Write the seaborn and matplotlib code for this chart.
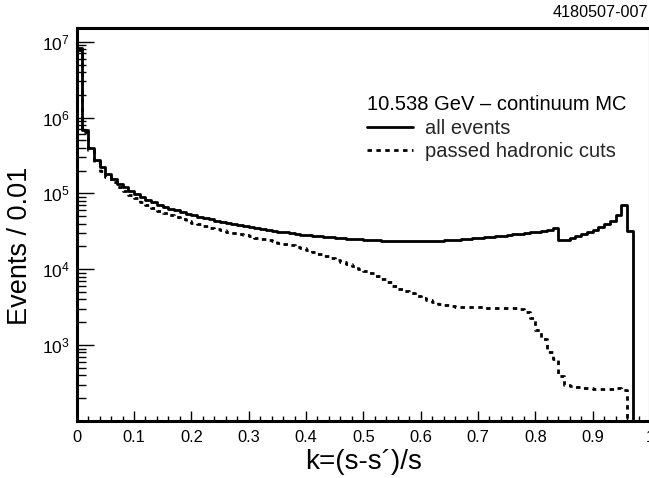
import numpy as np
import pandas as pd
import matplotlib
matplotlib.use("Agg")
import matplotlib.pyplot as plt
import seaborn as sns
from matplotlib.ticker import FixedLocator, MultipleLocator, LogLocator, NullFormatter
from matplotlib.lines import Line2D

# ---------------- data ----------------
bin_width = 0.01
n_bins = 100

all_events = [
    8.2e6, 6.9e5, 4.0e5, 2.8e5, 2.2e5, 1.8e5, 1.55e5, 1.35e5, 1.2e5, 1.08e5,
    9.8e4, 8.9e4, 8.2e4, 7.6e4, 7.1e4, 6.7e4, 6.3e4, 6.0e4, 5.7e4, 5.4e4,
    5.15e4, 4.95e4, 4.75e4, 4.55e4, 4.35e4, 4.2e4, 4.05e4, 3.92e4, 3.82e4, 3.7e4,
    3.6e4, 3.5e4, 3.4e4, 3.3e4, 3.22e4, 3.14e4, 3.06e4, 2.99e4, 2.93e4, 2.87e4,
    2.82e4, 2.77e4, 2.72e4, 2.68e4, 2.64e4, 2.6e4, 2.57e4, 2.54e4, 2.51e4, 2.48e4,
    2.46e4, 2.43e4, 2.41e4, 2.39e4, 2.37e4, 2.36e4, 2.35e4, 2.34e4, 2.34e4, 2.34e4,
    2.34e4, 2.35e4, 2.36e4, 2.38e4, 2.4e4, 2.42e4, 2.45e4, 2.48e4, 2.51e4, 2.55e4,
    2.59e4, 2.63e4, 2.67e4, 2.72e4, 2.77e4, 2.82e4, 2.88e4, 2.94e4, 3.0e4, 3.07e4,
    3.14e4, 3.22e4, 3.32e4, 3.5e4, 2.41e4, 2.45e4, 2.59e4, 2.72e4, 2.92e4, 3.1e4,
    3.33e4, 3.6e4, 3.95e4, 4.3e4, 5.2e4, 6.95e4, 3.16e4, 0, 0, 0,
]

hadronic = [
    7.8e6, 6.4e5, 3.7e5, 2.6e5, 2.0e5, 1.65e5, 1.4e5, 1.22e5, 1.07e5, 9.6e4,
    8.6e4, 7.7e4, 7.0e4, 6.4e4, 5.9e4, 5.5e4, 5.2e4, 4.9e4, 4.6e4, 4.35e4,
    4.1e4, 3.9e4, 3.72e4, 3.55e4, 3.4e4, 3.26e4, 3.14e4, 3.03e4, 2.92e4, 2.82e4,
    2.72e4, 2.62e4, 2.52e4, 2.43e4, 2.34e4, 2.25e4, 2.16e4, 2.07e4, 1.98e4, 1.9e4,
    1.8e4, 1.7e4, 1.6e4, 1.5e4, 1.41e4, 1.33e4, 1.25e4, 1.17e4, 1.09e4, 1.02e4,
    9.5e3, 8.8e3, 8.1e3, 7.5e3, 6.9e3, 6.0e3, 5.5e3, 5.1e3, 4.8e3, 4.45e3,
    4.2e3, 3.95e3, 3.7e3, 3.5e3, 3.35e3, 3.25e3, 3.2e3, 3.17e3, 3.15e3, 3.15e3,
    3.14e3, 3.13e3, 3.13e3, 3.12e3, 3.12e3, 3.1e3, 3.05e3, 3.0e3, 2.75e3, 2.3e3,
    1.6e3, 1.2e3, 820, 650, 390, 300, 285, 278, 275, 272,
    268, 262, 262, 265, 270, 255, 0, 0, 0, 0,
]

x_ticks = [0, 0.1, 0.2, 0.3, 0.4, 0.5, 0.6, 0.7, 0.8, 0.9, 1.0]
x_tick_labels = ["0", "0.1", "0.2", "0.3", "0.4", "0.5", "0.6", "0.7", "0.8", "0.9", "1"]
y_ticks = [1e3, 1e4, 1e5, 1e6, 1e7]
y_tick_labels = [r"$\mathregular{10^{3}}$", r"$\mathregular{10^{4}}$", r"$\mathregular{10^{5}}$",
                 r"$\mathregular{10^{6}}$", r"$\mathregular{10^{7}}$"]

title_text = "10.538 GeV \u2013 continuum MC"
series_labels = ["all events", "passed hadronic cuts"]
x_label = "k=(s-s\u00b4)/s"
y_label = "Events / 0.01"
corner_tag = "4180507-007"

# ---------------- style ----------------
sns.set_theme(style="ticks")
plt.rcParams["font.family"] = ["Liberation Sans", "DejaVu Sans"]
plt.rcParams["axes.facecolor"] = "white"
plt.rcParams["figure.facecolor"] = "white"

W, H = 649, 478
fig = plt.figure(figsize=(W / 100, H / 100), dpi=100)
ax_left, ax_right, ax_top, ax_bottom = 76.7, 650.0, 27.7, 421.0
ax = fig.add_axes([ax_left / W, 1 - ax_bottom / H, (ax_right - ax_left) / W, (ax_bottom - ax_top) / H])

centers = (np.arange(n_bins) + 0.5) * bin_width
df = pd.DataFrame({"k": centers, "all": all_events, "had": hadronic})
k_range = (0.0, n_bins * bin_width)

dash = (0, (1.6, 1.6))
sns.histplot(data=df, x="k", weights="had", bins=n_bins, binrange=k_range, element="step",
             fill=False, color="black", linewidth=2.0, linestyle=dash, ax=ax)
sns.histplot(data=df, x="k", weights="all", bins=n_bins, binrange=k_range, element="step",
             fill=False, color="black", linewidth=2.0, ax=ax)

ax.set_yscale("log")
ax.set_xlim(0, 1)
ax.set_ylim(100, 1.53e7)

ax.xaxis.set_major_locator(FixedLocator(x_ticks))
ax.set_xticklabels(x_tick_labels)
ax.xaxis.set_minor_locator(MultipleLocator(0.02))
ax.yaxis.set_major_locator(FixedLocator(y_ticks))
ax.set_yticklabels(y_tick_labels)
ax.yaxis.set_minor_locator(LogLocator(base=10, subs=np.arange(2, 10), numticks=30))
ax.yaxis.set_minor_formatter(NullFormatter())

ax.tick_params(axis="x", which="major", direction="in", length=7, width=1.0, pad=6.8,
               labelsize=11.8, color="black", labelcolor="black")
ax.tick_params(axis="x", which="minor", direction="in", length=3.3, width=1.0, color="black")
ax.tick_params(axis="y", which="major", direction="in", length=12.2, width=1.0, pad=5,
               labelsize=12.5, color="black", labelcolor="black")
ax.tick_params(axis="y", which="minor", direction="in", length=6.5, width=1.0, color="black")

for side in ["left", "bottom", "top", "right"]:
    ax.spines[side].set_linewidth(2.2)
    ax.spines[side].set_color("black")

ax.set_xlabel(x_label, fontsize=20, color="black")
ax.set_ylabel(y_label, fontsize=19.5, color="black")
ax.xaxis.set_label_coords(0.5, -0.071)
ax.yaxis.set_label_coords(-0.076, 0.445)

# legend: title line as text, entries as legend
ax.text(0.506, (ax_bottom - 110) / (ax_bottom - ax_top), title_text, transform=ax.transAxes,
        ha="left", va="baseline", fontsize=14.5, color="black")
handles = [Line2D([], [], color="black", lw=2.0),
           Line2D([], [], color="black", lw=2.0, linestyle=dash)]
ax.legend(handles=handles, labels=series_labels, loc="upper left",
          bbox_to_anchor=(0.506, (ax_bottom - 119) / (ax_bottom - ax_top)), frameon=False,
          fontsize=14.5, borderpad=0, borderaxespad=0, handlelength=2.3,
          handletextpad=0.6, labelspacing=0.2)

fig.text(648 / W, 1 - 12.7 / H, corner_tag, ha="right", va="center", fontsize=11.6, color="black")

fig.savefig("out.png", dpi=100)
